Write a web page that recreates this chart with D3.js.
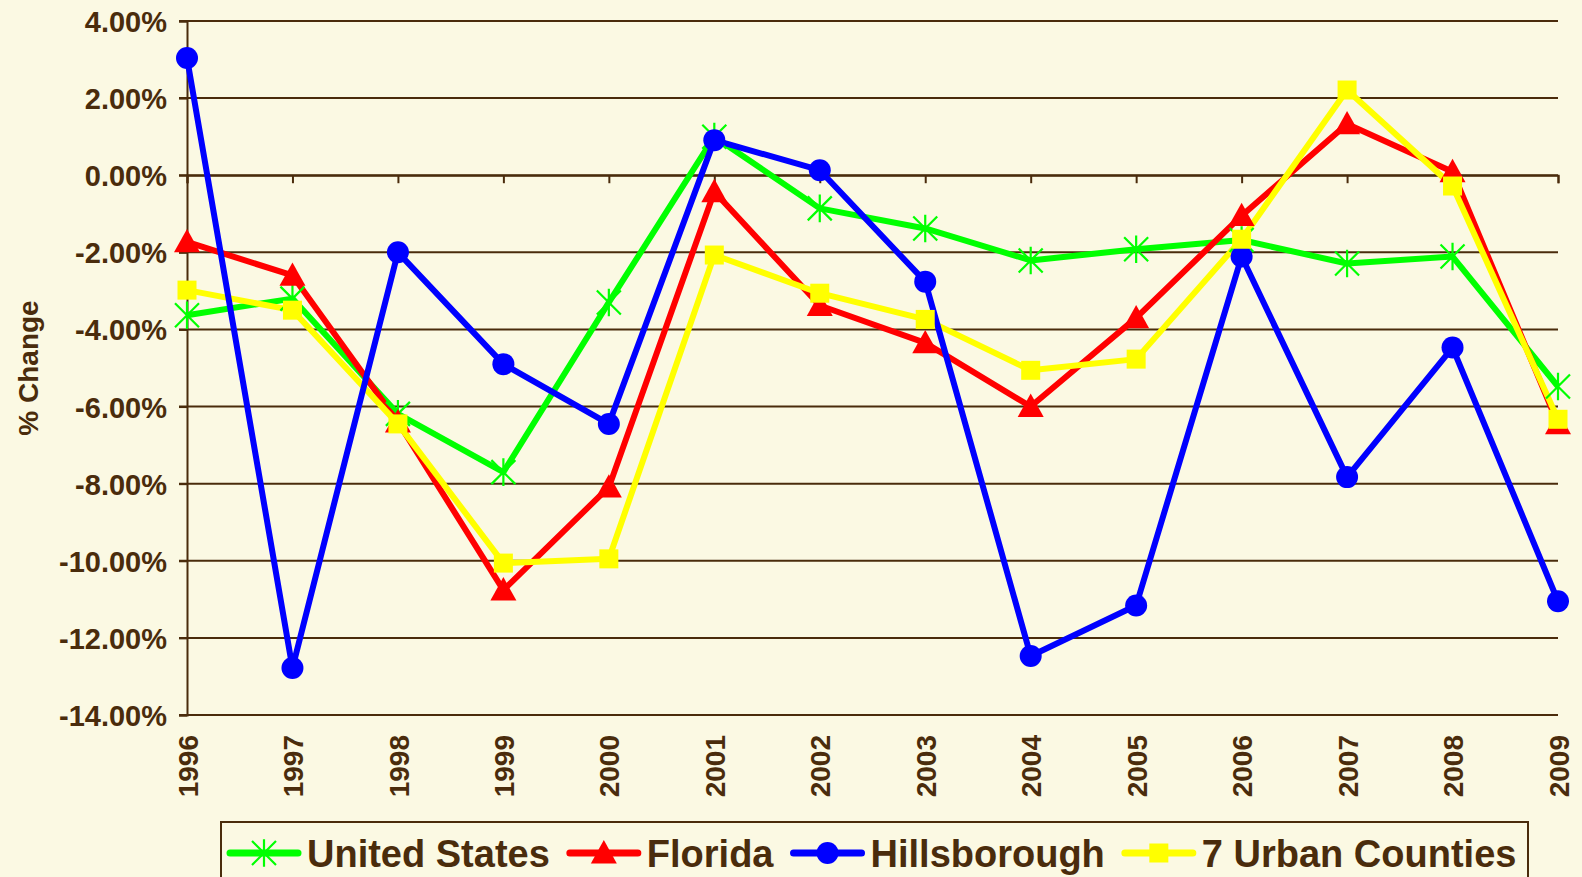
<!DOCTYPE html>
<html><head><meta charset="utf-8">
<script src="https://cdn.jsdelivr.net/npm/d3@7"></script>
<style>
html,body{margin:0;padding:0;background:#FBF9E3;}
svg{display:block;font-family:"Liberation Sans",Arial,sans-serif;font-weight:bold;}
</style></head>
<body><svg id="c" width="1582" height="877"></svg>
<script>
const years = ["1996","1997","1998","1999","2000","2001","2002","2003","2004","2005","2006","2007","2008","2009"];
const unitedStates = [-3.63,-3.2,-6.19,-7.7,-3.3,1.0,-0.86,-1.38,-2.21,-1.92,-1.68,-2.29,-2.11,-5.48];
const florida = [-1.73,-2.6,-6.4,-10.76,-8.09,-0.43,-3.38,-4.35,-6.0,-3.7,-1.05,1.33,0.09,-6.45];
const hillsborough = [3.04,-12.78,-2.0,-4.9,-6.45,0.91,0.13,-2.76,-12.47,-11.16,-2.11,-7.83,-4.47,-11.05];
const urban7 = [-2.98,-3.5,-6.45,-10.06,-9.95,-2.07,-3.06,-3.74,-5.06,-4.77,-1.66,2.21,-0.28,-6.33];
const yTicks = [-14,-12,-10,-8,-6,-4,-2,0,2,4];
const seriesNames = ["United States","Florida","Hillsborough","7 Urban Counties"];

const ink = "#4A2C0C";
const series = [
  {name:seriesNames[0], values:unitedStates, color:"#00FF00", marker:"star"},
  {name:seriesNames[1], values:florida, color:"#FF0000", marker:"triangle"},
  {name:seriesNames[2], values:hillsborough, color:"#0000FF", marker:"circle"},
  {name:seriesNames[3], values:urban7, color:"#FFFF00", marker:"square"}
];

const svg = d3.select("#c");
const x = d3.scalePoint().domain(years).range([187,1558]);
const y = d3.scaleLinear().domain([-14,4]).range([715,21]);
const fmt = d3.formatLocale({decimal:".",thousands:",",grouping:[3],currency:["$",""],minus:"-"}).format(".2f");

// gridlines
svg.append("g").selectAll("line").data(yTicks).join("line")
  .attr("x1",179).attr("x2",1558).attr("y1",d=>y(d)).attr("y2",d=>y(d))
  .attr("stroke",ink).attr("stroke-width",2);

// y axis
const ya = svg.append("g").attr("transform","translate(187,0)")
  .call(d3.axisLeft(y).tickValues(yTicks).tickSize(8).tickPadding(12).tickFormat(d=>fmt(d)+"%"));
ya.select(".domain").attr("stroke",ink).attr("stroke-width",2);
ya.selectAll(".tick line").attr("stroke",ink).attr("stroke-width",2);
ya.selectAll(".tick text").attr("fill",ink).style("font-size","29px").style("font-family","'Liberation Sans',Arial,sans-serif").style("font-weight","bold").attr("dy","0.36em");

// x axis at zero
const xa = svg.append("g").attr("transform",`translate(0,${y(0)})`)
  .call(d3.axisBottom(x).tickSize(8).tickFormat(""));
xa.select(".domain").attr("stroke",ink).attr("stroke-width",2);
xa.selectAll(".tick line").attr("stroke",ink).attr("stroke-width",2);

// x labels at bottom
const xl = svg.append("g").attr("transform",`translate(0,${y(-14)})`)
  .call(d3.axisBottom(x).tickSize(0).tickPadding(0));
xl.select(".domain").remove();
xl.selectAll(".tick text").attr("fill",ink).style("font-size","28px").style("font-family","'Liberation Sans',Arial,sans-serif").style("font-weight","bold")
  .attr("transform","rotate(-90)").attr("text-anchor","end").attr("x",-20).attr("y",0).attr("dy","0.36em");

// y title
svg.append("text").attr("transform",`translate(28,${(y(4)+y(-14))/2}) rotate(-90)`)
  .attr("text-anchor","middle").attr("dy","0.36em").attr("fill",ink).style("font-size","28px").text("% Change");

function drawMarker(g, type, color, cx, cy){
  if(type==="circle"){
    g.append("circle").attr("cx",cx).attr("cy",cy).attr("r",11).attr("fill",color);
  } else if(type==="square"){
    g.append("rect").attr("x",cx-9.5).attr("y",cy-9.5).attr("width",19).attr("height",19).attr("fill",color);
  } else if(type==="triangle"){
    const s=13;
    g.append("path").attr("d",`M${cx},${cy-s}L${cx+s},${cy+s*0.8}L${cx-s},${cy+s*0.8}Z`).attr("fill",color);
  } else if(type==="star"){
    const s=12;
    g.append("path").attr("d",`M${cx-s},${cy-s}L${cx+s},${cy+s}M${cx-s},${cy+s}L${cx+s},${cy-s}M${cx},${cy-s*1.15}L${cx},${cy+s*1.15}`)
      .attr("stroke",color).attr("stroke-width",2.2).attr("fill","none");
  }
}

const line = d3.line().x((d,i)=>x(years[i])).y(d=>y(d));
const lineOrder = [0,1,3,2];
const markerOrder = [0,1,2,3];
const lg = svg.append("g");
lineOrder.forEach(k=>{
  const s=series[k];
  lg.append("path").datum(s.values).attr("d",line).attr("fill","none")
    .attr("stroke",s.color).attr("stroke-width",6).attr("stroke-linejoin","round");
});
const mg = svg.append("g");
markerOrder.forEach(k=>{
  const s=series[k];
  s.values.forEach((v,i)=>drawMarker(mg,s.marker,s.color,x(years[i]),y(v)));
});

// legend
const leg = svg.append("g");
leg.append("rect").attr("x",221).attr("y",822).attr("width",1307).attr("height",70)
  .attr("fill","#FBF9E3").attr("stroke",ink).attr("stroke-width",2);
let lx = 230;
const ly = 853;
series.forEach((s,i)=>{
  leg.append("line").attr("x1",lx).attr("x2",lx+68).attr("y1",ly).attr("y2",ly)
    .attr("stroke",s.color).attr("stroke-width",7).attr("stroke-linecap","round");
  drawMarker(leg,s.marker,s.color,lx+34,ly);
  const t = leg.append("text").attr("x",lx+77).attr("y",ly).attr("dy","0.36em")
    .attr("fill",ink).style("font-size","38px").text(s.name);
  lx = lx + 77 + t.node().getComputedTextLength() + 20;
});
</script></body></html>
